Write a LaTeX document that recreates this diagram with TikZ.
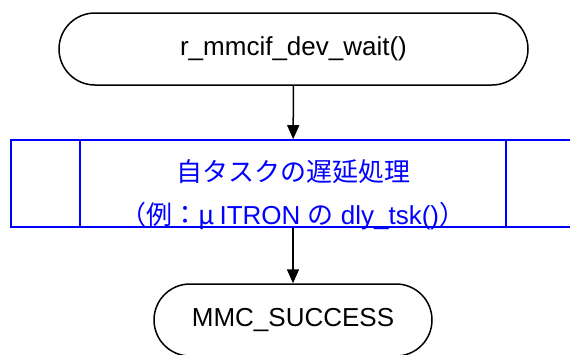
\documentclass[tikz,border=0pt]{standalone}
\usepackage{fontspec}
\setmainfont{Liberation Sans}
\newfontfamily\jp{Noto Sans CJK JP}
\usetikzlibrary{arrows.meta}
\begin{document}
\begin{tikzpicture}[x=1pt, y=-1pt]
  %
  \tikzstyle{term} = [draw=black, line width=1.5pt, rounded corners=36pt, minimum height=72pt, inner sep=0pt, font=\fontsize{26}{30}\selectfont]
  \tikzstyle{proc} = [draw=blue, line width=1.6pt, minimum width=564pt, minimum height=87pt, inner sep=0pt]
  \tikzstyle{proctext} = [inner sep=0pt, text=blue, align=center, font=\fontsize{26}{43}\selectfont]
  \tikzstyle{flow} = [line width=1.5pt, -{Triangle[width=12pt, length=14pt]}]
  \useasboundingbox (0,0) rectangle (570,354);
  \node[term, minimum width=469pt] (start) at (293.5,49) {r\_mmcif\_dev\_wait()};
  \node[proc] (wait) at (293,183.5) {};
  \node[proctext] (waittext) at (293,195) {{\jp 自タスクの遅延処理}\\{\jp （例：μ}\,ITRON {\jp の} dly\_tsk(){\jp ）}};
  \draw[blue, line width=1.6pt] ([xshift=70pt]wait.north west) -- ([xshift=70pt]wait.south west);
  \draw[blue, line width=1.6pt] ([xshift=-70pt]wait.north east) -- ([xshift=-70pt]wait.south east);
  \node[term, minimum width=278pt] (done) at (293,320) {MMC\_SUCCESS};
  \draw[flow] (start) -- (wait);
  \draw[flow] (wait) -- (done);
\end{tikzpicture}
\end{document}
